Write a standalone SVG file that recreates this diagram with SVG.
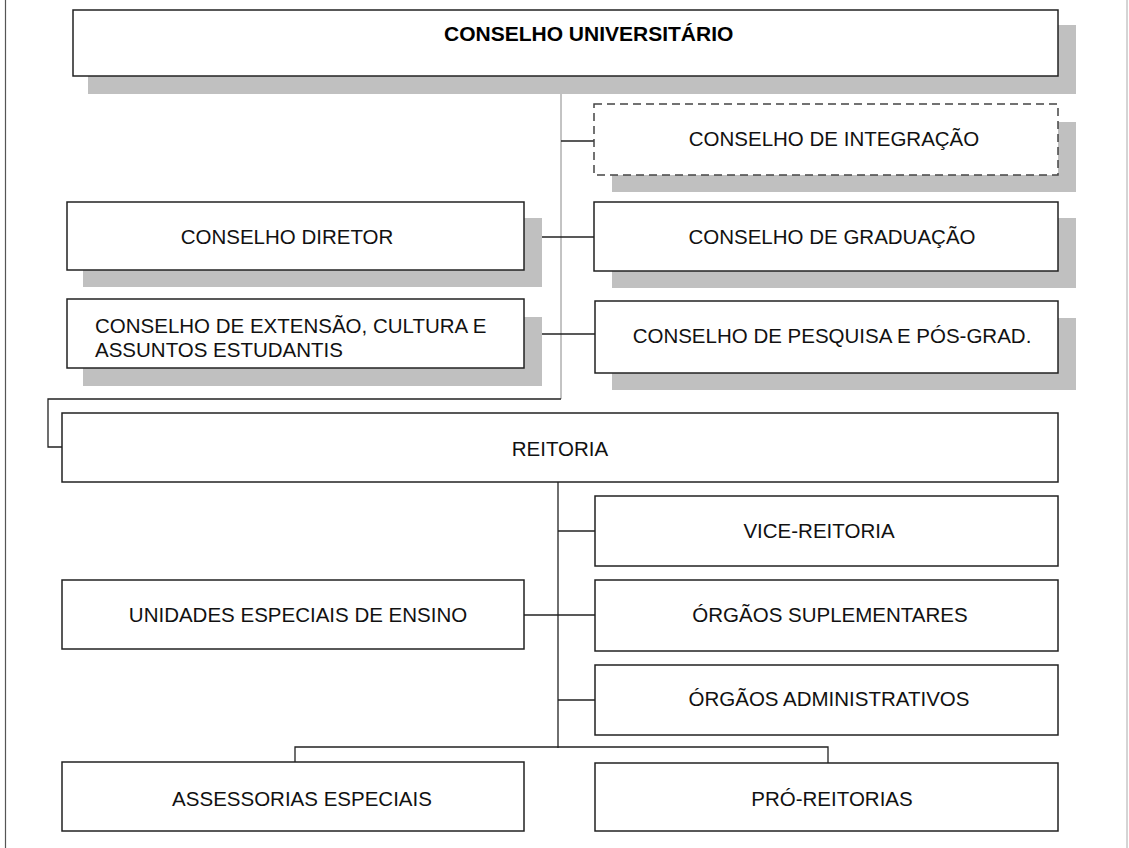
<svg xmlns="http://www.w3.org/2000/svg" width="1129" height="848" viewBox="0 0 1129 848">
<style>
.box{fill:#fff;stroke:#222;stroke-width:1.5}
.dash{fill:#fff;stroke:#444;stroke-width:1.5;stroke-dasharray:8 5}
.sh{fill:#c0c0c0}
.t{font-family:"Liberation Sans",Arial,sans-serif;font-size:20.5px;fill:#111}
.b{font-family:"Liberation Sans",Arial,sans-serif;font-size:21px;font-weight:bold;fill:#000}
.ln{fill:none;stroke:#222;stroke-width:1.3}
.lg{fill:none;stroke:#888;stroke-width:1}
</style>
<rect width="1129" height="848" fill="#fff"/>
<line x1="5.5" y1="0" x2="5.5" y2="848" stroke="#555" stroke-width="1.2"/>
<line x1="1127" y1="0" x2="1127" y2="848" stroke="#aaa" stroke-width="1"/>
<g id="connectors">
<polyline class="lg" points="561,76 561,399"/>
<polyline class="ln" points="561,399 48,399 48,447 62,447"/>
<polyline class="ln" points="561,141 594,141"/>
<polyline class="ln" points="524,237 594,237"/>
<polyline class="ln" points="524,334 595,334"/>
<polyline class="ln" points="558,482 558,748"/>
<polyline class="ln" points="558,531 595,531"/>
<polyline class="ln" points="524,615 595,615"/>
<polyline class="ln" points="558,700 595,700"/>
<polyline class="ln" points="295,762 295,747 828,747 828,763"/>
</g>
<g id="conselho-universitario">
<rect class="sh" x="88" y="25" width="988" height="69"/>
<rect class="box" x="73" y="10" width="985" height="66"/>
<text class="b" x="444" y="41">CONSELHO UNIVERSITÁRIO</text>
</g>
<g id="conselho-integracao">
<rect class="sh" x="612" y="122" width="464" height="70"/>
<rect class="dash" x="594" y="104" width="464" height="71"/>
<text class="t" x="834" y="146" text-anchor="middle">CONSELHO DE INTEGRAÇÃO</text>
</g>
<g id="conselho-diretor">
<rect class="sh" x="83" y="218" width="459" height="69"/>
<rect class="box" x="67" y="202" width="457" height="68"/>
<text class="t" x="287" y="244" text-anchor="middle">CONSELHO DIRETOR</text>
</g>
<g id="conselho-graduacao">
<rect class="sh" x="612" y="218" width="464" height="70"/>
<rect class="box" x="594" y="202" width="464" height="69"/>
<text class="t" x="832" y="244" text-anchor="middle">CONSELHO DE GRADUAÇÃO</text>
</g>
<g id="conselho-extensao">
<rect class="sh" x="83" y="317" width="459" height="69"/>
<rect class="box" x="67" y="299" width="457" height="69"/>
<text class="t" x="95" y="333">CONSELHO DE EXTENSÃO, CULTURA E</text>
<text class="t" x="95" y="357">ASSUNTOS ESTUDANTIS</text>
</g>
<g id="conselho-pesquisa">
<rect class="sh" x="612" y="318" width="464" height="72"/>
<rect class="box" x="595" y="301" width="463" height="72"/>
<text class="t" x="832" y="343" text-anchor="middle">CONSELHO DE PESQUISA E PÓS-GRAD.</text>
</g>
<g id="reitoria">
<rect class="box" x="62" y="413" width="996" height="69"/>
<text class="t" x="560" y="456" text-anchor="middle">REITORIA</text>
</g>
<g id="vice-reitoria">
<rect class="box" x="595" y="496" width="463" height="70"/>
<text class="t" x="819" y="538" text-anchor="middle">VICE-REITORIA</text>
</g>
<g id="unidades-especiais">
<rect class="box" x="62" y="580" width="462" height="69"/>
<text class="t" x="298" y="622" text-anchor="middle">UNIDADES ESPECIAIS DE ENSINO</text>
</g>
<g id="orgaos-suplementares">
<rect class="box" x="595" y="580" width="463" height="71"/>
<text class="t" x="830" y="622" text-anchor="middle">ÓRGÃOS SUPLEMENTARES</text>
</g>
<g id="orgaos-administrativos">
<rect class="box" x="595" y="665" width="463" height="70"/>
<text class="t" x="829" y="706" text-anchor="middle">ÓRGÃOS ADMINISTRATIVOS</text>
</g>
<g id="assessorias-especiais">
<rect class="box" x="62" y="762" width="462" height="69"/>
<text class="t" x="302" y="806" text-anchor="middle">ASSESSORIAS ESPECIAIS</text>
</g>
<g id="pro-reitorias">
<rect class="box" x="595" y="763" width="463" height="68"/>
<text class="t" x="832" y="806" text-anchor="middle">PRÓ-REITORIAS</text>
</g>
</svg>
